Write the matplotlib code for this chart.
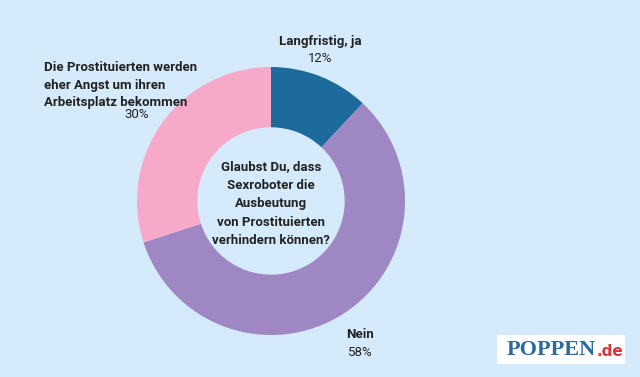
import matplotlib.pyplot as plt
from matplotlib.patches import Rectangle

# Daten
antworten = ["Langfristig, ja", "Nein", "Die Prostituierten werden\neher Angst um ihren\nArbeitsplatz bekommen"]
anteile = [12, 58, 30]
farben = ["#1d6a9c", "#9e87c2", "#f7a9c9"]
frage = "Glaubst Du, dass\nSexroboter die\nAusbeutung\nvon Prostituierten\nverhindern können?"

hintergrund = "#d5ebfc"
schrift = "#222222"
plt.rcParams['font.family'] = ['Roboto', 'DejaVu Sans']

fig = plt.figure(figsize=(6.4, 3.77), dpi=100)
fig.patch.set_facecolor(hintergrund)
ax = fig.add_axes([0, 0, 1, 1])

# Donut
ax.pie(anteile, colors=farben, startangle=90, counterclock=False,
       center=(271, 176), radius=134, frame=True,
       wedgeprops=dict(width=134 * 0.45, linewidth=0))
ax.set_xlim(0, 640)
ax.set_ylim(0, 377)
ax.set_aspect('equal')
ax.axis('off')

# Frage in der Mitte
ax.text(271, 173, frage, ha='center', va='center', fontsize=9.5,
        fontweight='bold', color=schrift, linespacing=1.55)

# Beschriftungen
ax.text(320, 336, antworten[0], ha='center', va='center', fontsize=9.5,
        fontweight='bold', color=schrift)
ax.text(320, 319, f"{anteile[0]}%", ha='center', va='center', fontsize=9.5, color=schrift)

ax.text(360, 43, antworten[1], ha='center', va='center', fontsize=9.5,
        fontweight='bold', color=schrift)
ax.text(360, 25, f"{anteile[1]}%", ha='center', va='center', fontsize=9.5, color=schrift)

ax.text(44, 292, antworten[2], ha='left', va='center', fontsize=9.5,
        fontweight='bold', color=schrift, linespacing=1.45)
ax.text(137, 262, f"{anteile[2]}%", ha='center', va='center', fontsize=9.5, color=schrift)

# Logo
ax.add_patch(Rectangle((497, 13), 128, 29, facecolor='white', edgecolor='none'))
ax.text(596, 27, "POPPEN", ha='right', va='center', fontsize=16,
        fontweight='bold', family='Liberation Serif', color="#2b6a9b")
ax.text(596, 25, ".de", ha='left', va='center', fontsize=11,
        fontweight='bold', family='DejaVu Sans', color="#d9363c")

fig.savefig("out.png", dpi=100, facecolor=hintergrund)
